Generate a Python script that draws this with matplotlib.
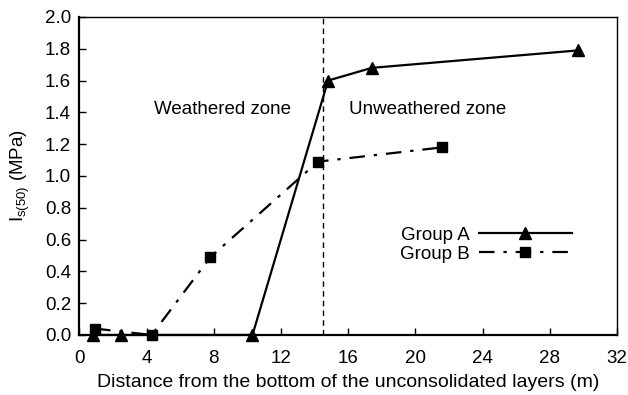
import matplotlib
matplotlib.use("Agg")
import matplotlib.pyplot as plt

plt.rcParams['font.family'] = ['Liberation Sans', 'DejaVu Sans']

a_x = [0.8, 2.5, 10.3, 14.8, 17.4, 29.7]
a_y = [0.0, 0.0, 0.0, 1.60, 1.68, 1.79]
b_x = [0.93, 4.3, 7.8, 14.2, 21.6]
b_y = [0.04, 0.0, 0.49, 1.09, 1.18]
boundary_x = 14.5
x_ticks = [0, 4, 8, 12, 16, 20, 24, 28, 32]
y_ticks = [0.0, 0.2, 0.4, 0.6, 0.8, 1.0, 1.2, 1.4, 1.6, 1.8, 2.0]

FS = 13.5

fig = plt.figure(figsize=(6.28, 3.95), dpi=100)
ax = fig.add_axes([0.1265, 0.152, 0.856, 0.805])

ax.plot(a_x, a_y, color='black', lw=1.6, marker='^', ms=8, label='Group A', clip_on=False, zorder=3)
ax.plot(b_x, b_y, color='black', lw=1.6, marker='s', ms=7, dashes=[7, 4, 1.5, 4],
        label='Group B', clip_on=False, zorder=3)
ax.axvline(boundary_x, color='black', lw=1.0, dashes=[4, 3])

ax.text(8.5, 1.42, 'Weathered zone', ha='center', va='center', fontsize=FS)
ax.text(20.7, 1.42, 'Unweathered zone', ha='center', va='center', fontsize=FS)

ax.set_xlim(0, 32)
ax.set_ylim(0, 2.0)
ax.set_xticks(x_ticks)
ax.set_yticks(y_ticks)
ax.set_yticklabels([f'{v:.1f}' for v in y_ticks])
ax.tick_params(direction='in', length=5, width=1, labelsize=FS)
ax.tick_params(axis='y', pad=6)
ax.tick_params(axis='x', pad=11)
for s in ['left', 'bottom']:
    ax.spines[s].set_linewidth(1.6)
for s in ['right', 'top']:
    ax.spines[s].set_linewidth(1.0)

ax.set_xlabel('Distance from the bottom of the unconsolidated layers (m)', fontsize=14, labelpad=5)
ax.set_ylabel(r'I$_{\mathregular{s(50)}}$ (MPa)', fontsize=FS, labelpad=9)

ax.legend(loc='center left', bbox_to_anchor=(0.597, 0.283), frameon=False, markerfirst=False,
          handlelength=5.0, handletextpad=0.45, fontsize=FS, labelspacing=0.1, borderpad=0,
          borderaxespad=0)

fig.savefig('out.png', dpi=100)
